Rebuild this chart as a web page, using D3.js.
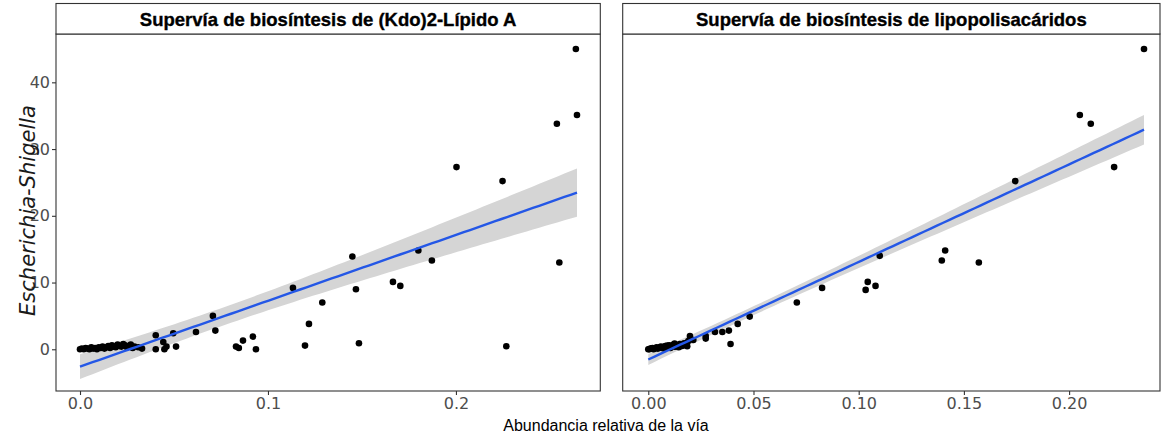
<!DOCTYPE html>
<html>
<head>
<meta charset="utf-8">
<script src="https://cdn.jsdelivr.net/npm/d3@7"></script>
<style>
  html, body { margin: 0; padding: 0; background: #ffffff; }
  svg { display: block; }
</style>
</head>
<body>
<svg id="chart" width="1164" height="435"></svg>
<script>
// Relative abundance of the (Kdo)2-lipid A pathway vs Escherichia-Shigella
const kdoX = [
  0.000, 0.001, 0.002, 0.003, 0.004, 0.005, 0.006, 0.007, 0.008, 0.009,
  0.010, 0.011, 0.012, 0.013, 0.014, 0.015, 0.016, 0.017, 0.018, 0.019,
  0.020, 0.021, 0.022, 0.023, 0.024, 0.025, 0.026, 0.027, 0.028, 0.029,
  0.031, 0.033, 0.0403, 0.0403, 0.0443, 0.0449, 0.046, 0.0496, 0.0511, 0.0617,
  0.0707, 0.072, 0.083, 0.0845, 0.0867, 0.092, 0.0936, 0.1133, 0.1197, 0.1218,
  0.1289, 0.1449, 0.1468, 0.1484, 0.1665, 0.1704, 0.180, 0.1872, 0.2003, 0.2248,
  0.2268, 0.2537, 0.2550, 0.2638, 0.2644
];
const kdoY = [
  0.0, 0.1, 0.0, 0.2, 0.1, 0.0, 0.3, 0.1, 0.2, 0.0,
  0.3, 0.2, 0.4, 0.1, 0.3, 0.5, 0.2, 0.6, 0.4, 0.3,
  0.7, 0.5, 0.4, 0.8, 0.6, 0.3, 0.5, 0.7, 0.2, 0.4,
  0.3, 0.1, 2.1, 0.0, 1.1, 0.0, 0.4, 2.4, 0.4, 2.6,
  5.0, 2.8, 0.4, 0.2, 1.3, 1.9, 0.0, 9.2, 0.55, 3.8,
  7.0, 13.9, 9.0, 0.9, 10.1, 9.5, 14.8, 13.3, 27.3, 25.2,
  0.45, 33.8, 13.0, 45.0, 35.1
];

// Relative abundance of the lipopolysaccharide pathway vs Escherichia-Shigella
const lpsX = [
  0.000, 0.0005, 0.001, 0.0015, 0.002, 0.0025, 0.003, 0.0035, 0.004, 0.0045,
  0.005, 0.0055, 0.006, 0.0065, 0.007, 0.0075, 0.008, 0.0085, 0.009, 0.009,
  0.0095, 0.010, 0.0105, 0.011, 0.0115, 0.012, 0.0125, 0.0125, 0.013, 0.0135,
  0.014, 0.0145, 0.015, 0.0155, 0.016, 0.0165, 0.017, 0.0175, 0.018, 0.0185,
  0.019, 0.0198, 0.0214, 0.0273, 0.0273, 0.0317, 0.0352, 0.0383, 0.0391, 0.0425,
  0.0482, 0.0706, 0.0826, 0.1033, 0.1043, 0.1080, 0.1100, 0.1395, 0.1411, 0.1571,
  0.1744, 0.2051, 0.2103, 0.2214, 0.2356
];
const lpsY = [
  0.0, 0.0, 0.1, 0.1, 0.2, 0.0, 0.1, 0.2, 0.3, 0.1,
  0.2, 0.3, 0.4, 0.2, 0.3, 0.1, 0.5, 0.4, 0.4, 0.55,
  0.3, 0.6, 0.2, 0.5, 0.5, 0.7, 0.4, 0.85, 0.4, 0.6,
  0.6, 0.3, 0.8, 0.5, 0.5, 0.7, 0.9, 0.6, 0.9, 0.45,
  1.25, 2.0, 1.4, 2.0, 1.6, 2.6, 2.6, 2.8, 0.8, 3.8,
  4.9, 7.0, 9.2, 8.9, 10.1, 9.5, 14.0, 13.3, 14.8, 13.0,
  25.2, 35.1, 33.8, 27.3, 45.0
];

const panelTitles = [
  "Supervía de biosíntesis de (Kdo)2-Lípido A",
  "Supervía de biosíntesis de lipopolisacáridos"
];
const yTicks = [0, 10, 20, 30, 40];
const kdoTicks = [0.0, 0.1, 0.2];
const kdoTickLabels = ["0.0", "0.1", "0.2"];
const lpsTicks = [0.00, 0.05, 0.10, 0.15, 0.20];
const lpsTickLabels = ["0.00", "0.05", "0.10", "0.15", "0.20"];
const yTitle = "Escherichia-Shigella";
const xTitle = "Abundancia relativa de la vía";

const svg = d3.select("#chart");
svg.append("rect").attr("width", 1164).attr("height", 435).attr("fill", "#ffffff");

// shared vertical layout
const panelTop = 34, panelBottom = 391, stripTop = 3.5;
const y = d3.scaleLinear().domain([-6.25, 47.24]).range([panelBottom, panelTop]);

const panels = [
  { xs: kdoX, ys: kdoY, title: panelTitles[0], ticks: kdoTicks, labels: kdoTickLabels,
    x: d3.scaleLinear().domain([-0.01277, 0.2768]).range([56, 600.3]) },
  { xs: lpsX, ys: lpsY, title: panelTitles[1], ticks: lpsTicks, labels: lpsTickLabels,
    x: d3.scaleLinear().domain([-0.01216, 0.2432]).range([622.7, 1160]) }
];

// ordinary least squares fit with a 95% confidence band (as in geom_smooth(method = "lm"))
function linearFit(xs, ys) {
  const n = xs.length;
  const mx = d3.mean(xs), my = d3.mean(ys);
  let sxx = 0, sxy = 0;
  for (let i = 0; i < n; i++) {
    sxx += (xs[i] - mx) ** 2;
    sxy += (xs[i] - mx) * (ys[i] - my);
  }
  const b = sxy / sxx, a = my - b * mx;
  let sse = 0;
  for (let i = 0; i < n; i++) sse += (ys[i] - (a + b * xs[i])) ** 2;
  const s = Math.sqrt(sse / (n - 2));
  return { a, b, s, n, mx, sxx };
}
const tCrit = 1.998;

panels.forEach(p => {
  const x = p.x;
  const [x0, x1] = x.range();
  const g = svg.append("g");

  // fitted line and ribbon
  const f = linearFit(p.xs, p.ys);
  const [lo, hi] = d3.extent(p.xs);
  const grid = d3.range(80).map(i => lo + (hi - lo) * i / 79);
  const band = grid.map(v => {
    const fit = f.a + f.b * v;
    const se = f.s * Math.sqrt(1 / f.n + (v - f.mx) ** 2 / f.sxx);
    return { v, fit, ymin: fit - tCrit * se, ymax: fit + tCrit * se };
  });

  g.append("path")
    .datum(band)
    .attr("fill", "#d5d5d5")
    .attr("d", d3.area().x(d => x(d.v)).y0(d => y(d.ymin)).y1(d => y(d.ymax)));

  // points
  g.append("g").selectAll("circle")
    .data(p.xs.map((v, i) => [v, p.ys[i]]))
    .join("circle")
    .attr("cx", d => x(d[0]))
    .attr("cy", d => y(d[1]))
    .attr("r", 3.3)
    .attr("fill", "#000000");

  g.append("path")
    .datum(band)
    .attr("fill", "none")
    .attr("stroke", "#2457e6")
    .attr("stroke-width", 2.4)
    .attr("d", d3.line().x(d => x(d.v)).y(d => y(d.fit)));

  // panel border
  g.append("rect")
    .attr("x", x0).attr("y", panelTop)
    .attr("width", x1 - x0).attr("height", panelBottom - panelTop)
    .attr("fill", "none").attr("stroke", "#333333").attr("stroke-width", 1.1);

  // strip
  g.append("rect")
    .attr("x", x0).attr("y", stripTop)
    .attr("width", x1 - x0).attr("height", panelTop - stripTop)
    .attr("fill", "#ffffff").attr("stroke", "#333333").attr("stroke-width", 1.1);
  g.append("text")
    .attr("x", (x0 + x1) / 2).attr("y", (stripTop + panelTop) / 2 + 0.5)
    .attr("dy", "0.35em")
    .attr("text-anchor", "middle")
    .attr("font-family", "'Liberation Sans', Arial, sans-serif")
    .attr("font-weight", "bold")
    .attr("font-size", 18.5)
    .attr("fill", "#000000")
    .attr("stroke", "#000000")
    .attr("stroke-width", 0.35)
    .text(p.title);

  // x axis
  const xAxis = d3.axisBottom(x)
    .tickValues(p.ticks)
    .tickFormat((d, i) => p.labels[i])
    .tickSize(4)
    .tickPadding(3);
  const ax = svg.append("g")
    .attr("transform", `translate(0,${panelBottom})`)
    .call(xAxis);
  ax.select(".domain").remove();
  ax.selectAll(".tick line").attr("stroke", "#333333").attr("stroke-width", 1.1);
  ax.selectAll(".tick text")
    .attr("fill", "#4d4d4d")
    .attr("font-family", "'DejaVu Sans', sans-serif")
    .attr("font-size", 16);
});

// y axis on the left panel
const yAxis = d3.axisLeft(y).tickValues(yTicks).tickSize(4).tickPadding(2);
const ay = svg.append("g").attr("transform", `translate(56,0)`).call(yAxis);
ay.select(".domain").remove();
ay.selectAll(".tick line").attr("stroke", "#333333").attr("stroke-width", 1.1);
ay.selectAll(".tick text")
  .attr("fill", "#4d4d4d")
  .attr("font-family", "'DejaVu Sans', sans-serif")
  .attr("font-size", 16);

// axis titles
svg.append("text")
  .attr("transform", `translate(28,${(panelTop + panelBottom) / 2 - 2}) rotate(-90)`)
  .attr("text-anchor", "middle")
  .attr("dy", "0.35em")
  .attr("font-family", "'DejaVu Sans', sans-serif")
  .attr("font-style", "italic")
  .attr("font-size", 21)
  .attr("fill", "#1a1a1a")
  .text(yTitle);

svg.append("text")
  .attr("x", 606).attr("y", 431)
  .attr("text-anchor", "middle")
  .attr("font-family", "'Liberation Sans', Arial, sans-serif")
  .attr("font-size", 16)
  .attr("fill", "#000000")
  .text(xTitle);
</script>
</body>
</html>
